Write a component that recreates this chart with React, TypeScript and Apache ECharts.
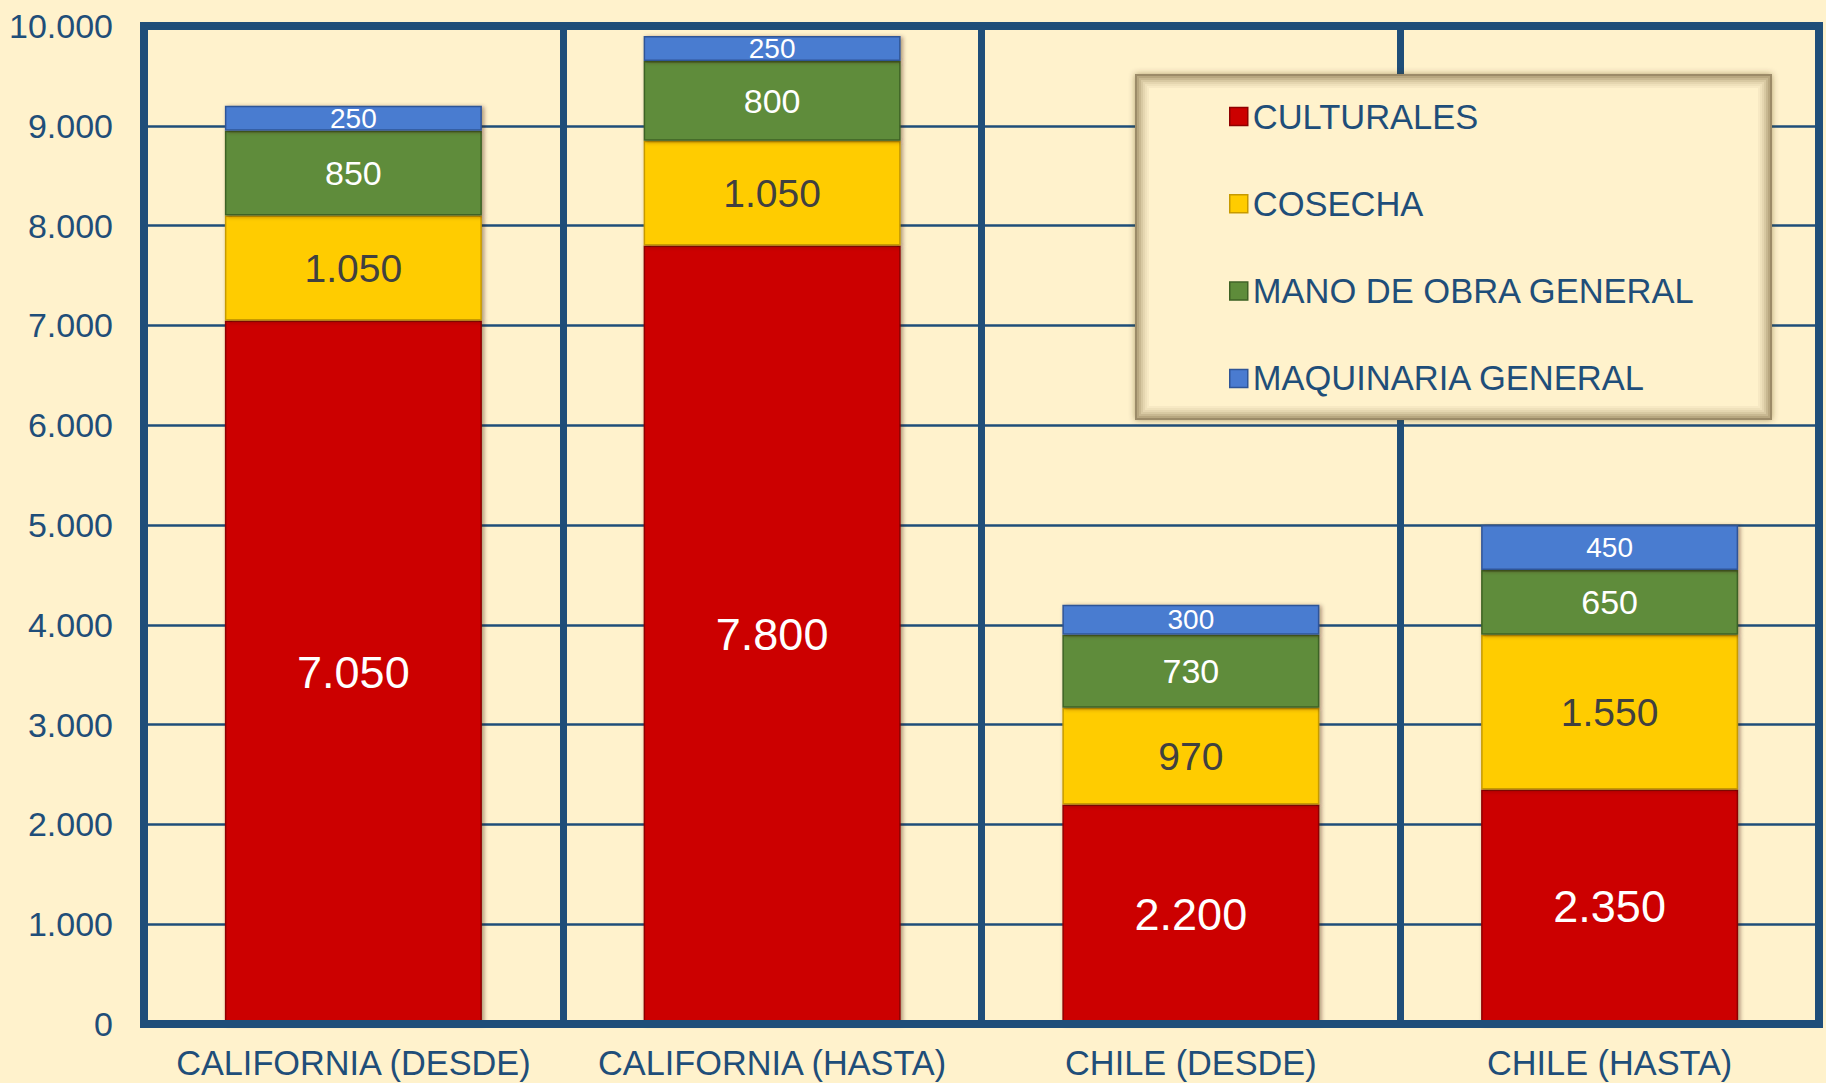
import React, { useEffect, useRef } from "react";
import * as echarts from "echarts";

const categories = ["CALIFORNIA (DESDE)", "CALIFORNIA (HASTA)", "CHILE (DESDE)", "CHILE (HASTA)"];
const seriesNames = ["CULTURALES", "COSECHA", "MANO DE OBRA GENERAL", "MAQUINARIA GENERAL"];
const culturales = [7050, 7800, 2200, 2350];
const cosecha = [1050, 1050, 970, 1550];
const manoDeObra = [850, 800, 730, 650];
const maquinaria = [250, 250, 300, 450];
const yTicks = [0, 1000, 2000, 3000, 4000, 5000, 6000, 7000, 8000, 9000, 10000];

const FONT = '"Liberation Sans", Arial, Helvetica, sans-serif';
const NAVY = "#1F4E79";
const BG = "#FFF2CC";

const fmt = (v: number) => String(v).replace(/\B(?=(\d{3})+(?!\d))/g, ".");

export default function App() {
  const ref = useRef<HTMLDivElement>(null);
  useEffect(() => {
    if (!ref.current) return;
    const chart = echarts.init(ref.current, null, { renderer: "svg" });
    const mk = (
      name: string,
      data: number[],
      color: string,
      border: string,
      labelColor: string,
      fontSize: number
    ) => ({
      name,
      type: "bar",
      stack: "total",
      data,
      barWidth: 257,
      itemStyle: {
        color,
        borderColor: border,
        borderWidth: 1.5,
        shadowBlur: 4,
        shadowOffsetX: 2,
        shadowOffsetY: 1,
        shadowColor: "rgba(60,30,0,0.45)",
      },
      label: {
        show: true,
        position: "inside",
        color: labelColor,
        fontSize,
        fontFamily: FONT,
        formatter: (p: any) => fmt(p.value),
      },
    });
    const shade = (i: number, a: number) => ({
      type: "rect",
      z: 8,
      silent: true,
      shape: { x: 1136 + i, y: 75 + i, width: 635 - 2 * i, height: 344 - 2 * i },
      style: { fill: "none", stroke: `rgba(125,105,65,${a})`, lineWidth: 2 },
    });
    chart.setOption({
      animation: false,
      backgroundColor: BG,
      grid: {
        left: 144,
        right: 7,
        top: 26,
        bottom: 59,
        show: true,
        borderWidth: 8,
        borderColor: NAVY,
        backgroundColor: "transparent",
      },
      xAxis: {
        type: "category",
        data: categories,
        z: 3,
        axisTick: { show: false },
        axisLine: { show: true, lineStyle: { color: NAVY, width: 8 } },
        splitLine: { show: true, interval: 0, lineStyle: { color: NAVY, width: 7 } },
        axisLabel: { color: NAVY, fontSize: 34.3, fontFamily: FONT, margin: 22, interval: 0 },
      },
      yAxis: {
        type: "value",
        min: yTicks[0],
        max: yTicks[yTicks.length - 1],
        interval: 1000,
        axisLine: { show: false },
        axisTick: { show: false },
        splitLine: { show: true, lineStyle: { color: NAVY, width: 2.5 } },
        axisLabel: {
          color: NAVY,
          fontSize: 34,
          fontFamily: FONT,
          margin: 31,
          formatter: (v: number) => fmt(v),
        },
      },
      legend: {
        orient: "vertical",
        left: 1224,
        top: 94,
        z: 10,
        itemWidth: 18,
        itemHeight: 18,
        itemGap: 52.3,
        icon: "rect",
        data: seriesNames,
        textStyle: { color: NAVY, fontSize: 34.5, fontFamily: FONT, lineHeight: 34 },
        itemStyle: { shadowBlur: 0, shadowOffsetX: 0, shadowOffsetY: 0, borderWidth: 1.5 },
      },
      graphic: [
        {
          type: "rect",
          z: 8,
          silent: true,
          shape: { x: 1136, y: 75, width: 635, height: 344 },
          style: {
            fill: BG,
            stroke: "#9C8B68",
            lineWidth: 2,
            shadowBlur: 6,
            shadowColor: "rgba(80,60,20,0.45)",
          },
        },
        shade(2, 0.55),
        shade(4, 0.42),
        shade(6, 0.3),
        shade(8, 0.2),
        shade(10, 0.12),
        shade(12, 0.06),
      ],
      series: [
        mk(seriesNames[0], culturales, "#CC0000", "#8E0000", "#FFFFFF", 45),
        mk(seriesNames[1], cosecha, "#FFCC00", "#C79A00", "#404040", 39),
        mk(seriesNames[2], manoDeObra, "#5E8C3A", "#3E6225", "#FFFFFF", 34),
        mk(seriesNames[3], maquinaria, "#4A7BD0", "#2F5597", "#FFFFFF", 28),
      ],
    });
    return () => chart.dispose();
  }, []);
  return (
    <div
      ref={ref}
      style={{ position: "fixed", left: 0, top: 0, width: 1826, height: 1083 }}
    />
  );
}
